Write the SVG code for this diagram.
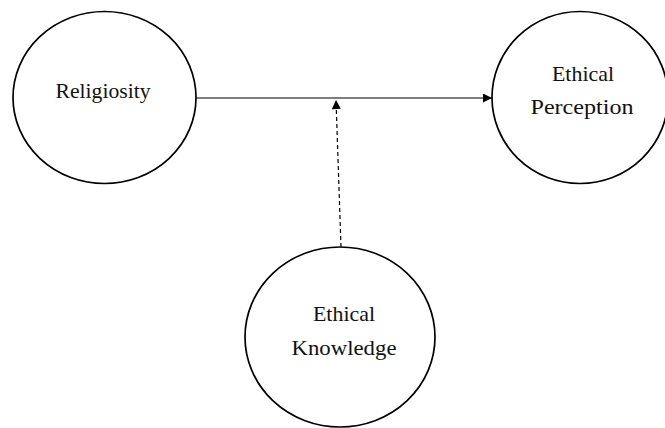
<svg xmlns="http://www.w3.org/2000/svg" width="665" height="428" viewBox="0 0 665 428">
<style>
.node{fill:#ffffff;stroke:#000000;stroke-width:1.7}
.lbl{font-family:"Liberation Serif","Times New Roman",serif;font-size:22px;fill:#111111;text-anchor:middle}
.edge{stroke:#000000;stroke-width:1.2;fill:none}
.dash{stroke-dasharray:4,3}
</style>
<defs>
<marker id="arr" viewBox="0 0 10 10" refX="10" refY="5" markerWidth="11" markerHeight="9" markerUnits="userSpaceOnUse" orient="auto">
<path d="M0,0 L10,5 L0,10 Z" fill="#000000"/>
</marker>
</defs>
<rect width="665" height="428" fill="#ffffff"/>
<g id="connectors">
<line class="edge" x1="196" y1="98" x2="492" y2="98" marker-end="url(#arr)"/>
<line class="edge dash" x1="341" y1="247" x2="336" y2="100" marker-end="url(#arr)"/>
</g>
<g id="religiosity">
<ellipse class="node" cx="104.5" cy="97.5" rx="91.5" ry="86"/>
<text class="lbl" x="103" y="98" textLength="95" lengthAdjust="spacingAndGlyphs">Religiosity</text>
</g>
<g id="ethical-perception">
<ellipse class="node" cx="580" cy="97.5" rx="88" ry="86"/>
<text class="lbl" x="583" y="81" textLength="62" lengthAdjust="spacingAndGlyphs">Ethical</text>
<text class="lbl" x="582" y="114" textLength="103" lengthAdjust="spacingAndGlyphs">Perception</text>
</g>
<g id="ethical-knowledge">
<ellipse class="node" cx="340" cy="337" rx="95" ry="90"/>
<text class="lbl" x="344" y="321" textLength="62" lengthAdjust="spacingAndGlyphs">Ethical</text>
<text class="lbl" x="344" y="355" textLength="105" lengthAdjust="spacingAndGlyphs">Knowledge</text>
</g>
</svg>
